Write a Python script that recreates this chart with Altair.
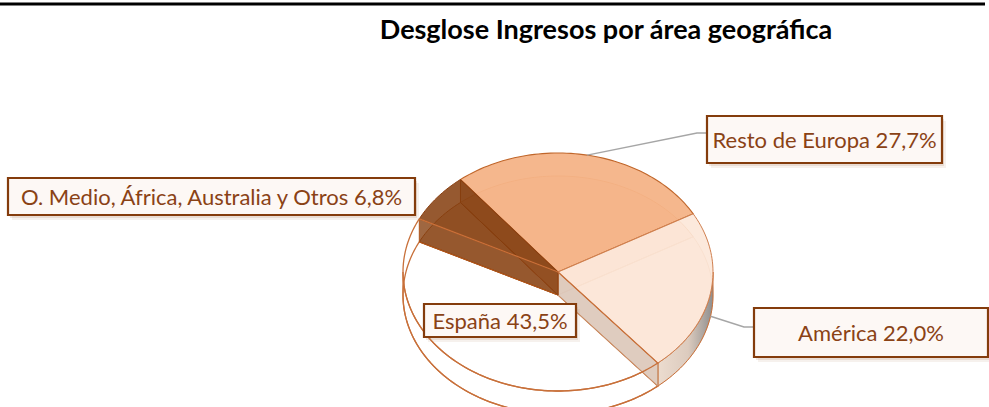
import math
import altair as alt
import pandas as pd

# ---------------- data ----------------
categories = ["Resto de Europa", "América", "España", "O. Medio, África, Australia y Otros"]
values = [27.7, 22.0, 43.5, 6.8]
label_texts = ["Resto de Europa 27,7%", "América 22,0%", "España 43,5%",
               "O. Medio, África, Australia y Otros 6,8%"]
title_text = "Desglose Ingresos por área geográfica"

# ---------------- layout ----------------
W, H = 989, 407
CX, CY, RX, RY, DEPTH = 558, 272, 155, 119, 23
START_DEG = -39.0
FONT = "Lato"

# label boxes: (x0, y0, x1, y1), leader y (None = no leader), leader depth offset
boxes = {
    "Resto de Europa": (707, 116, 942, 163, 133, 0),
    "América": (754, 308, 988, 357, 327, DEPTH),
    "España": (424, 304, 576, 337, None, 0),
    "O. Medio, África, Australia y Otros": (8, 178, 415, 215, None, 0),
}

xs = alt.Scale(domain=[0, W], nice=False, zero=False)
ys = alt.Scale(domain=[0, H], nice=False, zero=False, reverse=True)


def pt(deg, dz=0.0):
    a = math.radians(deg)
    return CX + RX * math.sin(a), CY - RY * math.cos(a) + dz


def arc(a0, a1, dz=0.0):
    n = max(6, int(abs(a1 - a0) / 1.5))
    return [pt(a0 + (a1 - a0) * k / n, dz) for k in range(n + 1)]


# ---------------- geometry table built from values ----------------
rows = []
pid = [0]


def add_poly(pts, sl, face):
    for i, (x, y) in enumerate(pts):
        rows.append(dict(pid=pid[0], i=i, x=x, y=y, slice=sl, face=face))
    pid[0] += 1


total = sum(values)
angles = {}
cur = START_DEG
for cat, v in zip(categories, values):
    a0, a1 = cur, cur + 360.0 * v / total
    angles[cat] = (a0, a1)
    cur = a1
    c_top = (CX, CY)
    c_bot = (CX, CY + DEPTH)
    add_poly([c_top] + arc(a0, a1) + [c_top], cat, "top")
    add_poly([c_bot] + arc(a0, a1, DEPTH) + [c_bot], cat, "bottom")
    for nm, a in (("s0", a0), ("s1", a1)):
        p, q = pt(a), pt(a, DEPTH)
        add_poly([c_top, p, q, c_bot, c_top], cat, nm)
    b0, b1 = max(a0, 90.0), min(a1, 270.0)
    if b1 > b0:
        add_poly(arc(b0, b1) + arc(b0, b1, DEPTH)[::-1] + [pt(b0)], cat, "rim")

geo = pd.DataFrame(rows)


def poly_layer(sl, face, **style):
    d = geo[(geo["slice"] == sl) & (geo["face"] == face)]
    return alt.Chart(d).mark_line(**style).encode(
        x=alt.X("x:Q", scale=xs, axis=None),
        y=alt.Y("y:Q", scale=ys, axis=None),
        detail="pid:N",
        order="i:Q",
    )


RESTO, AMER, ESP, OTROS = categories
EDGE = "#C8703A"

layers = []
# bottom faces
layers.append(poly_layer(RESTO, "bottom", fill="#F4B183", fillOpacity=0.35, stroke="#E2A376", strokeWidth=1))
layers.append(poly_layer(AMER, "bottom", fill="#FBE5D6", fillOpacity=0.5, stroke="#E8C2A8", strokeWidth=1))
layers.append(poly_layer(ESP, "bottom", fill="white", fillOpacity=0, stroke=EDGE, strokeWidth=1.3))
layers.append(poly_layer(OTROS, "bottom", fill="#843C0C", fillOpacity=0.35, stroke="#A0501E", strokeWidth=1))
# walls
layers.append(poly_layer(AMER, "rim",
                         fill=alt.Gradient(gradient="linear", x1=0, x2=1, y1=0, y2=0,
                                           stops=[alt.GradientStop(offset=0, color="#ECDCCF"),
                                                  alt.GradientStop(offset=0.55, color="#DCCBBE"),
                                                  alt.GradientStop(offset=1, color="#8E8E8E")]),
                         stroke="#C8703A", strokeWidth=1))
layers.append(poly_layer(ESP, "rim", fill="white", fillOpacity=0, stroke=EDGE, strokeWidth=1.3))
layers.append(poly_layer(AMER, "s1", fill="#DCC8BA", fillOpacity=0.9, stroke="#C8906A", strokeWidth=1))
layers.append(poly_layer(OTROS, "s0", fill="#843C0C", fillOpacity=0.78, stroke="#B0561A", strokeWidth=1))
layers.append(poly_layer(OTROS, "s1", fill="#843C0C", fillOpacity=0.45, stroke="#8E4416", strokeWidth=1))
# top faces
layers.append(poly_layer(RESTO, "top", fill="#F4B183", fillOpacity=0.92, stroke="#C0662A", strokeWidth=1.1))
layers.append(poly_layer(AMER, "top", fill="#FBE5D6", fillOpacity=0.85, stroke="#D08050", strokeWidth=1))
layers.append(poly_layer(OTROS, "top", fill="#843C0C", fillOpacity=0.85, stroke="#8A4012", strokeWidth=1))
layers.append(poly_layer(ESP, "top", fill="white", fillOpacity=0, stroke=EDGE, strokeWidth=1.3))

# ---------------- leader lines ----------------
lead_rows = []
for k, cat in enumerate(categories):
    x0, y0, x1, y1, ly, dz = boxes[cat]
    if ly is None:
        continue
    a0, a1 = angles[cat]
    sx, sy = pt((a0 + a1) / 2, dz)
    for i, (x, y) in enumerate([(sx, sy), (x0 - 10, ly), (x0, ly)]):
        lead_rows.append(dict(lid=k, i=i, x=x, y=y))
leaders = alt.Chart(pd.DataFrame(lead_rows)).mark_line(color="#A6A6A6", strokeWidth=1.5).encode(
    x=alt.X("x:Q", scale=xs, axis=None), y=alt.Y("y:Q", scale=ys, axis=None),
    detail="lid:N", order="i:Q")
layers.append(leaders)

# ---------------- label boxes ----------------
lab = pd.DataFrame([
    dict(cat=c, text=t, x0=boxes[c][0], y0=boxes[c][1], x1=boxes[c][2], y1=boxes[c][3],
         xc=(boxes[c][0] + boxes[c][2]) / 2, yc=(boxes[c][1] + boxes[c][3]) / 2 + 1)
    for c, t in zip(categories, label_texts)
])
enc_rect = dict(x=alt.X("x0:Q", scale=xs, axis=None), x2="x1:Q",
                y=alt.Y("y0:Q", scale=ys, axis=None), y2="y1:Q")
for off, op in ((5, 0.12), (3, 0.2)):
    sh = lab.assign(x0=lab.x0 + off - 1, x1=lab.x1 + off - 1, y0=lab.y0 + off, y1=lab.y1 + off)
    layers.append(alt.Chart(sh).mark_rect(fill="#B98B6C", opacity=op).encode(**enc_rect))
layers.append(alt.Chart(lab).mark_rect(fill="#FDF8F5", stroke="#843C0C", strokeWidth=2.2).encode(**enc_rect))
layers.append(alt.Chart(lab).mark_text(font=FONT, fontSize=22, color="#8A4215",
                                       align="center", baseline="middle").encode(
    x=alt.X("xc:Q", scale=xs, axis=None), y=alt.Y("yc:Q", scale=ys, axis=None), text="text:N"))

# ---------------- title and top rule ----------------
ttl = pd.DataFrame([dict(x=606, y=31, text=title_text)])
layers.append(alt.Chart(ttl).mark_text(font=FONT, fontSize=27, fontWeight="bold", color="black",
                                       align="center", baseline="middle").encode(
    x=alt.X("x:Q", scale=xs, axis=None), y=alt.Y("y:Q", scale=ys, axis=None), text="text:N"))
rule = pd.DataFrame([dict(x0=0, x1=W - 4, y=4)])
layers.append(alt.Chart(rule).mark_rule(color="black", strokeWidth=3).encode(
    x=alt.X("x0:Q", scale=xs, axis=None), x2="x1:Q", y=alt.Y("y:Q", scale=ys, axis=None)))

chart = alt.layer(*layers).properties(
    width=W, height=H, padding=0, autosize=alt.AutoSizeParams(type="none"), background="white"
).configure_view(stroke=None)

chart.save("out.html", embed_options={"renderer": "svg", "actions": False})
